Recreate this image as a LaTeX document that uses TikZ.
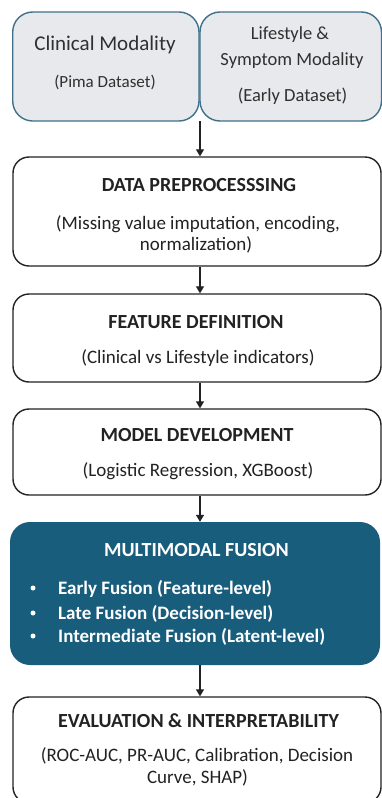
\documentclass[tikz,border=0pt]{standalone}
\usepackage{fontspec}
\setmainfont{Carlito}
\usetikzlibrary{arrows.meta}
\definecolor{modfill}{HTML}{E7E9EC}
\definecolor{modline}{HTML}{41708A}
\definecolor{fusefill}{HTML}{185D7C}
\definecolor{ink}{HTML}{222222}
\definecolor{softink}{HTML}{303030}

\begin{document}
\begin{tikzpicture}[x=1pt,y=-1pt,
  modbox/.style={draw=modline, fill=modfill, line width=1.4pt, rounded corners=20pt, inner sep=0pt},
  stagebox/.style={draw=ink, fill=white, line width=1.4pt, rounded corners=16pt, inner sep=0pt},
  fusebox/.style={fill=fusefill, rounded corners=20pt, inner sep=0pt},
  lbl/.style={anchor=base, inner sep=0pt, text=ink},
  title/.style={lbl, font=\fontsize{20}{22}\selectfont\bfseries},
  body/.style={lbl, font=\fontsize{19}{21}\selectfont},
  fuseitem/.style={anchor=base west, inner sep=0pt, text=white, font=\fontsize{19}{21}\selectfont\bfseries},
  dot/.style={circle, fill=white, inner sep=0pt, minimum size=5pt},
  flow/.style={draw=ink, line width=1.3pt, -{Triangle[length=7pt,width=8pt]}},
]
\useasboundingbox (0,0) rectangle (382,798);
\clip (0,0) rectangle (382,798);

% input modalities
\node[modbox, minimum width=186.3pt, minimum height=109pt] (clin) at (105.85,66.5) {};
\node[modbox, minimum width=181.5pt, minimum height=109pt] (life) at (290.75,66.5) {};
\node[lbl, text=softink, font=\fontsize{21}{23}\selectfont] (clinT) at (105,50.7) {Clinical Modality};
\node[lbl, text=softink, font=\fontsize{17}{19}\selectfont] (clinS) at (105,87.4) {(Pima Dataset)};
\node[lbl, text=softink, font=\fontsize{18.5}{21}\selectfont] (lifeT1) at (290,39) {Lifestyle \&};
\node[lbl, text=softink, font=\fontsize{18.5}{21}\selectfont] (lifeT2) at (292,65) {Symptom Modality};
\node[lbl, text=softink, font=\fontsize{18.5}{21}\selectfont] (lifeS) at (292.5,101) {(Early Dataset)};
\coordinate (split) at (200,121);

% pipeline stages
\node[stagebox, minimum width=368pt, minimum height=109pt] (prep) at (197,211.5) {};
\node[title] (prepT) at (199,191.4) {DATA PREPROCESSSING};
\node[body] (prepS1) at (198,229) {(Missing value imputation, encoding,};
\node[body] (prepS2) at (196,250) {normalization)};

\node[stagebox, minimum width=368pt, minimum height=88pt] (feat) at (197,338) {};
\node[title] (featT) at (196,328.4) {FEATURE DEFINITION};
\node[body] (featS) at (198,363) {(Clinical vs Lifestyle indicators)};

\node[stagebox, minimum width=368pt, minimum height=86pt] (model) at (197,452) {};
\node[title] (modelT) at (197,441.4) {MODEL DEVELOPMENT};
\node[body] (modelS) at (198,476) {(Logistic Regression, XGBoost)};

\node[fusebox, minimum width=370pt, minimum height=143pt] (fuse) at (195,593.5) {};
\node[title, text=white] (fuseT) at (196.5,556.5) {MULTIMODAL FUSION};
\node[dot] (b1) at (33,588) {};
\node[dot] (b2) at (33,613) {};
\node[dot] (b3) at (33,636) {};
\node[fuseitem] (f1) at (58,594) {Early Fusion (Feature-level)};
\node[fuseitem] (f2) at (58,619) {Late Fusion (Decision-level)};
\node[fuseitem] (f3) at (58,642) {Intermediate Fusion (Latent-level)};

\node[stagebox, minimum width=368pt, minimum height=106pt] (eval) at (197,750) {};
\node[title] (evalT) at (198.5,727.4) {EVALUATION \& INTERPRETABILITY};
\node[body] (evalS1) at (197,761) {(ROC-AUC, PR-AUC, Calibration, Decision};
\node[body] (evalS2) at (197.5,783) {Curve, SHAP)};

% flow arrows
\draw[flow] (split) -- (prep.north -| split);
\draw[flow] (prep.south -| split) -- (feat.north -| split);
\draw[flow] (feat.south -| split) -- (model.north -| split);
\draw[flow] (model.south -| split) -- (fuse.north -| split);
\draw[flow] (fuse.south -| split) -- (eval.north -| split);
\end{tikzpicture}
\end{document}
